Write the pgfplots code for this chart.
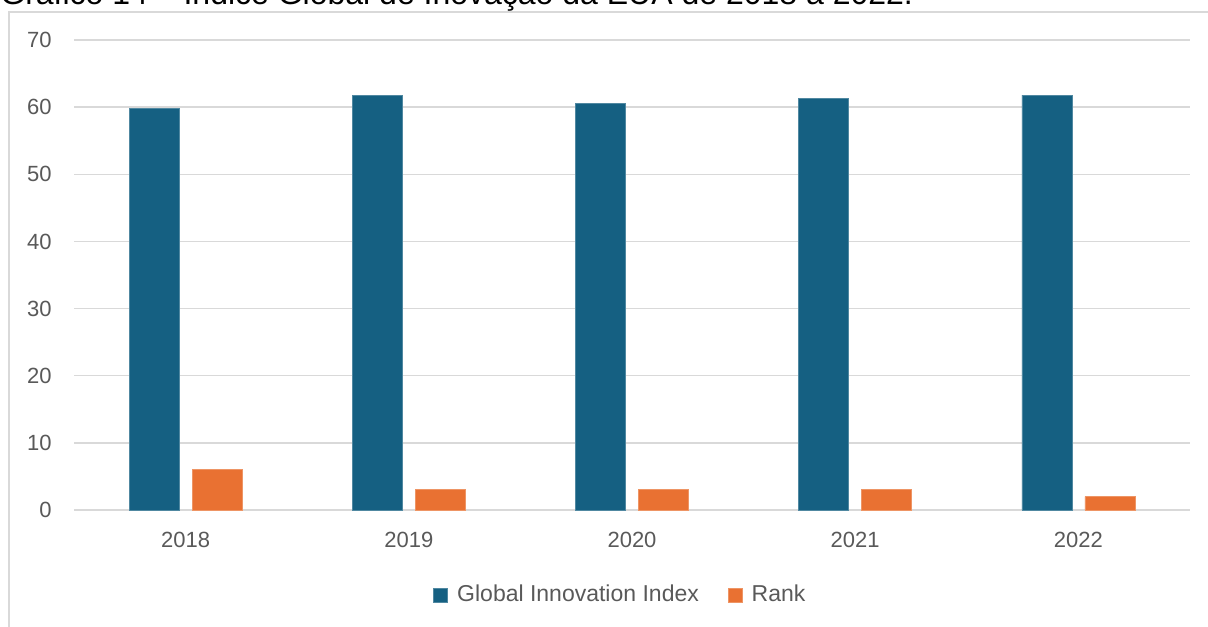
\documentclass[border=0pt]{standalone}
\usepackage{fontspec}
\setmainfont{Liberation Sans}
\usepackage{pgfplots}
\pgfplotsset{compat=1.18}
\definecolor{gii}{HTML}{156082}
\definecolor{rank}{HTML}{E97132}
\definecolor{gridc}{HTML}{D9D9D9}
\definecolor{txt}{HTML}{595959}
\begin{document}
\begin{tikzpicture}
\useasboundingbox (-37pt,-58pt) rectangle (567pt,255pt);
\clip (-37pt,-58pt) rectangle (567pt,255pt);
\draw[gridc, line width=0.9pt] (-32.5pt,-70pt) -- (-32.5pt,249pt) -- (620pt,249pt);
\node[anchor=base west, inner sep=0pt, font=\fontsize{16}{19}\selectfont] at (-37pt,252.5pt) {Gráfico 14 – Índice Global de Inovação da EUA de 2018 a 2022.};
\begin{axis}[
  width=558pt, height=235pt, scale only axis,
  xmin=-0.5, xmax=4.5, ymin=0, ymax=70,
  ytick={0,10,...,70},
  xtick={0,1,2,3,4}, xticklabels={2018,2019,2020,2021,2022},
  ybar=6.5pt, bar width=25pt,
  axis line style={draw=none}, major tick length=0pt,
  ymajorgrids, grid style={gridc, line width=0.75pt},
  /pgf/number format/assume math mode=true,
  tick label style={font=\fontsize{11}{13}\selectfont, text=txt},
  yticklabel style={anchor=east, inner sep=0pt},
  xticklabel style={anchor=north, inner sep=0pt},
  yticklabel shift=11pt, xticklabel shift=11pt,
  legend style={at={(0.4905,-0.181)}, anchor=center, draw=none, fill=none,
    legend columns=2, font=\fontsize{11.5}{13}\selectfont, text=txt,
    /tikz/every even column/.append style={column sep=12.5pt}},
  legend image code/.code={\fill[#1] (0pt,-3.5pt) rectangle (7pt,3.5pt); \path (9.5pt,0pt);},
]
\addplot[fill=gii, draw=gii!75!white, line width=0.4pt] coordinates {(0,59.8) (1,61.7) (2,60.6) (3,61.3) (4,61.8)};
\addplot[fill=rank, draw=rank!75!white, line width=0.4pt] coordinates {(0,6) (1,3) (2,3) (3,3) (4,2)};
\legend{Global Innovation Index, Rank}
\end{axis}
\end{tikzpicture}
\end{document}
